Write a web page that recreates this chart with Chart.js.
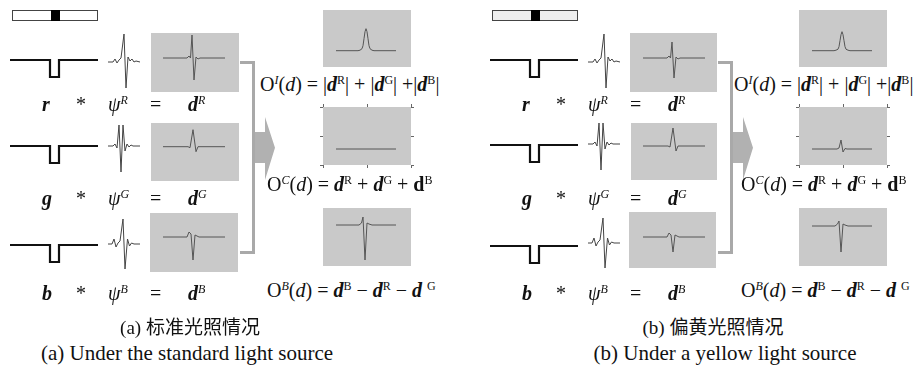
<!DOCTYPE html>
<html>
<head>
<meta charset="utf-8">
<script src="https://cdn.jsdelivr.net/npm/chart.js@4.4.1/dist/chart.umd.min.js"></script>
<style>
  html, body { margin: 0; padding: 0; background: #fff; }
  #fig { position: relative; width: 917px; height: 367px; overflow: hidden;
         font-family: "Liberation Serif", "Times New Roman", serif; color: #111; }
  #fig canvas { position: absolute; }
  .t { position: absolute; white-space: nowrap; line-height: 1; transform: translateY(-50%); }
  .f { font-size: 20px; }
  .lab { font-size: 20px; }
  .t sup { font-size: 0.6em; vertical-align: 0.6em; line-height: 0; }
  .cap { font-size: 21px; transform: translate(-50%, -50%); }
  .cn { font-size: 19px; font-family: "Liberation Serif", "Noto Sans CJK SC", serif; }
  .bar { position: absolute; border: 1px solid #444; box-sizing: border-box; }
  .blk { position: absolute; background: #000; }
  .brk { position: absolute; border: 3px solid #a9a9a9; border-left: none; box-sizing: border-box; }
  .arrow { position: absolute; background: #b1b1b1;
           clip-path: polygon(0 24%, 50% 24%, 50% 0, 100% 49%, 50% 100%, 50% 73%, 0 73%); }
</style>
</head>
<body>
<div id="fig"></div>
<script>
// ── data (in pixel-like units above the baseline) ──
const VARS     = ['r', 'g', 'b'];
const CHANNELS = ['R', 'G', 'B'];

// input edge profile (same for all three channels)
const STEP_X = [0, 40, 40, 49, 49, 88];
const STEP_Y = [0, 0, -17, -17, 0, 0];

// receptive-field wavelets ψR, ψG, ψB
const PSI_R_X = [0, 5, 7, 9, 11, 13, 16, 18, 20, 22, 24, 26, 28, 32];
const PSI_R_Y = [0, 0, 3, -1, 2, 4, 28, -26, 5, 1, 3, 0, 1, 0];
const PSI_G_X = [0, 5, 7, 9, 11, 13, 15, 17, 19, 21, 23, 25, 32];
const PSI_G_Y = [0, 0, 2, -2, 21, -26, 21, -5, 2, -1, 1, 0, 0];
const PSI_B_X = [0, 4, 6, 8, 10, 12, 15, 17, 19.5, 21.5, 23.5, 26, 32];
const PSI_B_Y = [0, 0, 5, -3, 1, 3, 25, -25, 5, -2, 1, 0, 0];

// channel responses d = c * ψ
const D_R_X = [0, 24, 26, 27.5, 29, 31, 33, 35, 37, 62];
const D_G_X = [0, 25, 27, 30, 33, 35, 62];
const D_B_X = [0, 24, 26, 28, 30, 32, 34, 36, 62];
const STD_DR = [0, 0, 2, 0, 23, -22, 1, -1, 0, 0];
const STD_DG = [0, 0, -1, 17, -5, 0, 0];
const STD_DB = [0, 0, 5, 3, -23, 2, 1, 0, 0];
const YLW_DR = [0, 0, 2, 0, 16, -20, 1, -1, 0, 0];
const YLW_DG = [0, 0, -1, 18, -5, 0, 0];
const YLW_DB = [0, 0, 4, 2, -15, 2, 1, 0, 0];

// combined outputs O^I, O^C, O^B
const O_I_X = [0, 22, 24, 26, 27, 28, 29, 30, 31, 32, 33, 34, 36, 38, 60];
const O_C_X = [0, 25, 27, 29, 31, 33, 35, 60];
const O_B_X = [0, 23, 25.5, 27, 29, 31, 33, 36, 60];
const STD_OI = [0, 0, 0.5, 2, 5, 12, 19, 22, 19, 12, 5, 2, 0.5, 0, 0];
const STD_OC = [0, 0, 0, 0, 0, 0, 0, 0];
const STD_OB = [0, 0, 2, 8, -35, 2, 1, 0, 0];
const YLW_OI = [0, 0, 0.5, 1.5, 4, 10, 16, 19, 16, 10, 4, 1.5, 0.5, 0, 0];
const YLW_OC = [0, 0, 1, 9, -3, 0.5, 0, 0];
const YLW_OB = [0, 0, 2, 5, -26, 2, 1, 0, 0];

const CAP_CN = ['(a) 标准光照情况', '(b) 偏黄光照情况'];
const CAP_EN = ['(a) Under the standard light source', '(b) Under a yellow light source'];

const fig = document.getElementById('fig');

// ── helpers ──────────────────────────────────────────────────────────────
const boxBg = {
  id: 'boxBg',
  beforeDraw(chart, args, opts) {
    if (!opts.color) return;
    const a = chart.chartArea, c = chart.ctx;
    c.save(); c.fillStyle = opts.color;
    c.fillRect(a.left, a.top, a.right - a.left, a.bottom - a.top);
    c.restore();
  }
};

function edgeTicks(axis) {
  const mid = (axis.min + axis.max) / 2;
  axis.ticks = [axis.min, mid, axis.max].map(v => ({ value: v }));
}

// box = [left, top, w, h] on the page, origin = [x of first sample, baseline y]
function mini({ box, origin, xs, ys, color = '#555', width = 1, bg = null, ticks = false }) {
  const [bx, by, bw, bh] = box;
  const m = ticks ? 3 : 0;
  const cv = document.createElement('canvas');
  cv.width = bw + 2 * m; cv.height = bh + 2 * m;
  cv.style.left = (bx - m) + 'px'; cv.style.top = (by - m) + 'px';
  fig.appendChild(cv);

  const [ox, oy] = origin;
  const xr = { min: bx - ox, max: bx + bw - ox };
  const yr = { min: oy - (by + bh), max: oy - by };
  const axis = (pos, r) => ticks ? {
    type: 'linear', position: pos, min: r.min, max: r.max, display: true,
    grid: { display: true, drawOnChartArea: false, drawTicks: true, tickLength: 3, color: '#666' },
    border: { display: false }, ticks: { display: false }, afterBuildTicks: edgeTicks,
  } : { type: 'linear', display: false, min: r.min, max: r.max };

  const scales = { x: axis('bottom', xr), y: axis('left', yr) };
  if (ticks) {
    scales.xt = Object.assign(axis('top', xr), { axis: 'x' });
    scales.yr = Object.assign(axis('right', yr), { axis: 'y' });
  }

  return new Chart(cv, {
    type: 'line',
    data: { datasets: [{
      data: xs.map((x, i) => ({ x, y: ys[i] })),
      borderColor: color, borderWidth: width, pointRadius: 0, tension: 0,
      borderJoinStyle: 'miter', clip: false,
    }] },
    options: {
      responsive: false, animation: false, events: [],
      layout: { padding: 0 },
      scales,
      plugins: { legend: { display: false }, tooltip: { enabled: false }, boxBg: { color: bg } },
    },
    plugins: [boxBg],
  });
}

function text(html, left, top, cls) {
  const s = document.createElement('span');
  s.className = 't ' + cls;
  s.style.left = left + 'px'; s.style.top = top + 'px';
  s.innerHTML = html;
  fig.appendChild(s);
  return s;
}

function div(cls, l, t, w, h, bg) {
  const d = document.createElement('div');
  d.className = cls;
  Object.assign(d.style, { left: l + 'px', top: t + 'px', width: w + 'px', height: h + 'px' });
  if (bg) d.style.background = bg;
  fig.appendChild(d);
}

const BOX = '#c9c9c9';
const PSI = [[PSI_R_X, PSI_R_Y], [PSI_G_X, PSI_G_Y], [PSI_B_X, PSI_B_Y]];
const D_X = [D_R_X, D_G_X, D_B_X];

const F_I = 'O<sup><i>I</i></sup>(<i>d</i>) = |<b><i>d</i></b><sup>R</sup>| + |<b><i>d</i></b><sup>G</sup>| +|<b><i>d</i></b><sup>B</sup>|';
const F_C = 'O<sup><i>C</i></sup>(<i>d</i>) = <b><i>d</i></b><sup>R</sup> + <b><i>d</i></b><sup>G</sup> + <b>d</b><sup>B</sup>';
const F_B = 'O<sup><i>B</i></sup>(<i>d</i>) = <b><i>d</i></b><sup>B</sup> − <b><i>d</i></b><sup>R</sup> − <b><i>d</i></b> <sup>G</sup>';

// ── one panel (standard / yellow) ────────────────────────────────────────
function panel(p) {
  const dx = p.dx;
  // light stimulus bar
  div('bar', 12 + dx, 10, 86, 11, p.barFill);
  div('blk', 51 + dx, 10, 9, 11);

  for (let k = 0; k < 3; k++) {
    mini({ box: [4 + dx, p.stepBase[k] - 6, 100, 28], origin: [10 + dx, p.stepBase[k]],
           xs: STEP_X, ys: STEP_Y, color: '#111', width: 2.2 });
    mini({ box: [103 + dx, p.psiBase[k] - 32, 42, 62], origin: [108 + dx, p.psiBase[k]],
           xs: PSI[k][0], ys: PSI[k][1], color: '#444', width: 1 });
    mini({ box: p.dBox[k], origin: [163 + dx, p.dBase[k]], xs: D_X[k], ys: p.d[k],
           color: '#555', width: 1, bg: BOX });

    const ly = p.labY[k];
    text('<b><i>' + VARS[k] + '</i></b>', 42 + dx, ly, 'lab');
    text('*', 76 + dx, ly, 'lab');
    text('<i>ψ</i><sup><i>' + CHANNELS[k] + '</i></sup>', 108 + dx, ly, 'lab');
    text('=', 150 + dx, ly, 'lab');
    text('<b><i>d</i></b><sup><i>' + CHANNELS[k] + '</i></sup>', 188 + dx, ly, 'lab');
  }

  // bracket + arrow
  div('brk', 240 + p.bx, 61, 15, 193);
  div('arrow', 255 + p.bx, 117, 20, 63);

  // outputs
  const ox = 336 + p.ox;
  mini({ box: [323 + p.ox, 10, 88, 57], origin: [ox, 50.7], xs: O_I_X, ys: p.o[0], color: '#555', bg: BOX });
  mini({ box: [323 + p.ox, 107, 88, 58], origin: [ox, 149], xs: O_C_X, ys: p.o[1], color: '#555', bg: BOX, ticks: true });
  mini({ box: [323 + p.ox, 208, 88, 58], origin: [ox, p.obBase], xs: O_B_X, ys: p.o[2], color: '#555', bg: BOX });

  text(F_I, 260 + p.fx, 84, 'f');
  text(F_C, 267 + p.fx, 184, 'f');
  text(F_B, 267 + p.fx, 290, 'f');

  text(p.capCn, p.capX[0], 327, 'cap cn');
  text(p.capEn, p.capX[1], 353, 'cap');
}

panel({
  dx: 0, bx: 0, ox: 0, fx: 0, barFill: '#fff',
  stepBase: [60, 146, 245], psiBase: [61.7, 146, 244],
  dBox: [[151, 33, 88, 59], [151, 123, 88, 58], [150, 213, 88, 59]], dBase: [58, 146.7, 237],
  d: [STD_DR, STD_DG, STD_DB], labY: [104, 198, 293],
  o: [STD_OI, STD_OC, STD_OB], obBase: 225,
  capCn: CAP_CN[0], capEn: CAP_EN[0], capX: [190, 187],
});

panel({
  dx: 480, bx: 478, ox: 476, fx: 474, barFill: '#eeeeee',
  stepBase: [60, 145, 246], psiBase: [61.7, 144, 243],
  dBox: [[630, 33, 87, 59], [631, 123, 86, 57], [629, 212, 87, 56]], dBase: [58, 146, 237],
  d: [YLW_DR, YLW_DG, YLW_DB], labY: [104, 198, 293],
  o: [YLW_OI, YLW_OC, YLW_OB], obBase: 226,
  capCn: CAP_CN[1], capEn: CAP_EN[1], capX: [713, 725],
});
</script>
</body>
</html>
